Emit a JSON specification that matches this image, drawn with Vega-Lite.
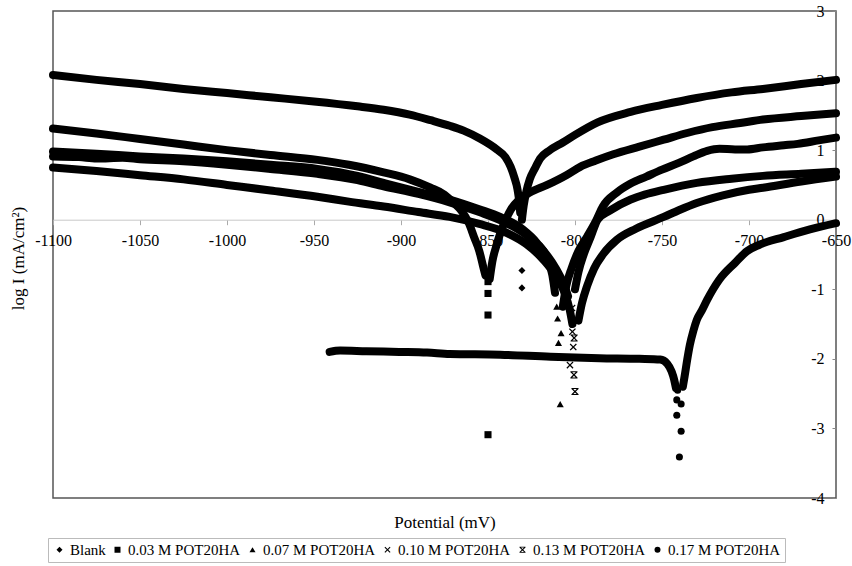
{
  "$schema": "https://vega.github.io/schema/vega-lite/v6.json",
  "width": 783,
  "height": 487,
  "autosize": {"type": "none"},
  "padding": {"left": 53, "top": 11, "right": 16, "bottom": 68},
  "background": "white",
  "config": {
    "view": {"stroke": "#555", "strokeWidth": 1.5},
    "font": "Liberation Serif, Times New Roman, serif"
  },
  "data": {"values": [
    {"s":"Blank","b":"c","E":-1100,"I":2.08},{"s":"Blank","b":"c","E":-1075,"I":2.01},{"s":"Blank","b":"c","E":-1050,"I":1.95},{"s":"Blank","b":"c","E":-1025,"I":1.88},{"s":"Blank","b":"c","E":-1000,"I":1.82},{"s":"Blank","b":"c","E":-975,"I":1.76},{"s":"Blank","b":"c","E":-950,"I":1.70},{"s":"Blank","b":"c","E":-925,"I":1.63},{"s":"Blank","b":"c","E":-910,"I":1.58},{"s":"Blank","b":"c","E":-895,"I":1.51},{"s":"Blank","b":"c","E":-883,"I":1.43},{"s":"Blank","b":"c","E":-872,"I":1.35},{"s":"Blank","b":"c","E":-864,"I":1.28},{"s":"Blank","b":"c","E":-855,"I":1.17},{"s":"Blank","b":"c","E":-845,"I":1.01},{"s":"Blank","b":"c","E":-840,"I":0.90},{"s":"Blank","b":"c","E":-837,"I":0.76},{"s":"Blank","b":"c","E":-835,"I":0.62},{"s":"Blank","b":"c","E":-833,"I":0.43},{"s":"Blank","b":"c","E":-832,"I":0.25},{"s":"Blank","b":"c","E":-831.5,"I":0.10},
    {"s":"Blank","b":"p","E":-830.5,"I":-0.73},{"s":"Blank","b":"p","E":-830.5,"I":-0.98},
    {"s":"Blank","b":"a","E":-830.5,"I":0.0},{"s":"Blank","b":"a","E":-829.5,"I":0.2},{"s":"Blank","b":"a","E":-828,"I":0.4},{"s":"Blank","b":"a","E":-826,"I":0.58},{"s":"Blank","b":"a","E":-823,"I":0.74},{"s":"Blank","b":"a","E":-820,"I":0.88},{"s":"Blank","b":"a","E":-815,"I":0.99},{"s":"Blank","b":"a","E":-807,"I":1.11},{"s":"Blank","b":"a","E":-800,"I":1.22},{"s":"Blank","b":"a","E":-787,"I":1.40},{"s":"Blank","b":"a","E":-768,"I":1.55},{"s":"Blank","b":"a","E":-750,"I":1.65},{"s":"Blank","b":"a","E":-730,"I":1.75},{"s":"Blank","b":"a","E":-710,"I":1.83},{"s":"Blank","b":"a","E":-692,"I":1.88},{"s":"Blank","b":"a","E":-670,"I":1.95},{"s":"Blank","b":"a","E":-650,"I":2.01},

    {"s":"0.03 M POT20HA","b":"c","E":-1100,"I":1.31},{"s":"0.03 M POT20HA","b":"c","E":-1075,"I":1.24},{"s":"0.03 M POT20HA","b":"c","E":-1050,"I":1.16},{"s":"0.03 M POT20HA","b":"c","E":-1025,"I":1.08},{"s":"0.03 M POT20HA","b":"c","E":-1000,"I":1.00},{"s":"0.03 M POT20HA","b":"c","E":-975,"I":0.93},{"s":"0.03 M POT20HA","b":"c","E":-948,"I":0.86},{"s":"0.03 M POT20HA","b":"c","E":-930,"I":0.79},{"s":"0.03 M POT20HA","b":"c","E":-910,"I":0.68},{"s":"0.03 M POT20HA","b":"c","E":-895,"I":0.58},{"s":"0.03 M POT20HA","b":"c","E":-883,"I":0.46},{"s":"0.03 M POT20HA","b":"c","E":-875,"I":0.36},{"s":"0.03 M POT20HA","b":"c","E":-870,"I":0.25},{"s":"0.03 M POT20HA","b":"c","E":-865,"I":0.12},{"s":"0.03 M POT20HA","b":"c","E":-861,"I":-0.05},{"s":"0.03 M POT20HA","b":"c","E":-858,"I":-0.25},{"s":"0.03 M POT20HA","b":"c","E":-855,"I":-0.45},{"s":"0.03 M POT20HA","b":"c","E":-853,"I":-0.65},{"s":"0.03 M POT20HA","b":"c","E":-851.5,"I":-0.80},
    {"s":"0.03 M POT20HA","b":"p","E":-850,"I":-0.89},{"s":"0.03 M POT20HA","b":"p","E":-850,"I":-1.06},{"s":"0.03 M POT20HA","b":"p","E":-850,"I":-1.37},{"s":"0.03 M POT20HA","b":"p","E":-850,"I":-3.09},
    {"s":"0.03 M POT20HA","b":"a","E":-849,"I":-0.85},{"s":"0.03 M POT20HA","b":"a","E":-847.5,"I":-0.60},{"s":"0.03 M POT20HA","b":"a","E":-845,"I":-0.36},{"s":"0.03 M POT20HA","b":"a","E":-843,"I":-0.20},{"s":"0.03 M POT20HA","b":"a","E":-841,"I":-0.07},{"s":"0.03 M POT20HA","b":"a","E":-837,"I":0.14},{"s":"0.03 M POT20HA","b":"a","E":-832,"I":0.29},{"s":"0.03 M POT20HA","b":"a","E":-826,"I":0.39},{"s":"0.03 M POT20HA","b":"a","E":-816,"I":0.50},{"s":"0.03 M POT20HA","b":"a","E":-805,"I":0.64},{"s":"0.03 M POT20HA","b":"a","E":-797,"I":0.76},{"s":"0.03 M POT20HA","b":"a","E":-788,"I":0.85},{"s":"0.03 M POT20HA","b":"a","E":-778,"I":0.94},{"s":"0.03 M POT20HA","b":"a","E":-763,"I":1.05},{"s":"0.03 M POT20HA","b":"a","E":-749,"I":1.15},{"s":"0.03 M POT20HA","b":"a","E":-735,"I":1.25},{"s":"0.03 M POT20HA","b":"a","E":-721,"I":1.33},{"s":"0.03 M POT20HA","b":"a","E":-705,"I":1.39},{"s":"0.03 M POT20HA","b":"a","E":-692,"I":1.44},{"s":"0.03 M POT20HA","b":"a","E":-670,"I":1.49},{"s":"0.03 M POT20HA","b":"a","E":-650,"I":1.53},

    {"s":"0.07 M POT20HA","b":"c","E":-1100,"I":0.98},{"s":"0.07 M POT20HA","b":"c","E":-1075,"I":0.95},{"s":"0.07 M POT20HA","b":"c","E":-1050,"I":0.91},{"s":"0.07 M POT20HA","b":"c","E":-1025,"I":0.88},{"s":"0.07 M POT20HA","b":"c","E":-1000,"I":0.84},{"s":"0.07 M POT20HA","b":"c","E":-975,"I":0.79},{"s":"0.07 M POT20HA","b":"c","E":-948,"I":0.73},{"s":"0.07 M POT20HA","b":"c","E":-925,"I":0.63},{"s":"0.07 M POT20HA","b":"c","E":-910,"I":0.53},{"s":"0.07 M POT20HA","b":"c","E":-890,"I":0.40},{"s":"0.07 M POT20HA","b":"c","E":-872,"I":0.29},{"s":"0.07 M POT20HA","b":"c","E":-855,"I":0.15},{"s":"0.07 M POT20HA","b":"c","E":-843,"I":0.04},{"s":"0.07 M POT20HA","b":"c","E":-830,"I":-0.14},{"s":"0.07 M POT20HA","b":"c","E":-822,"I":-0.33},{"s":"0.07 M POT20HA","b":"c","E":-816,"I":-0.55},{"s":"0.07 M POT20HA","b":"c","E":-813,"I":-0.80},{"s":"0.07 M POT20HA","b":"c","E":-811.5,"I":-1.05},
    {"s":"0.07 M POT20HA","b":"p","E":-810.5,"I":-1.25},{"s":"0.07 M POT20HA","b":"p","E":-810,"I":-1.42},{"s":"0.07 M POT20HA","b":"p","E":-808,"I":-1.63},{"s":"0.07 M POT20HA","b":"p","E":-809.5,"I":-1.77},{"s":"0.07 M POT20HA","b":"p","E":-808.5,"I":-2.65},
    {"s":"0.07 M POT20HA","b":"a","E":-807,"I":-1.25},{"s":"0.07 M POT20HA","b":"a","E":-805,"I":-0.95},{"s":"0.07 M POT20HA","b":"a","E":-802,"I":-0.70},{"s":"0.07 M POT20HA","b":"a","E":-798,"I":-0.45},{"s":"0.07 M POT20HA","b":"a","E":-793,"I":-0.24},{"s":"0.07 M POT20HA","b":"a","E":-788,"I":-0.02},{"s":"0.07 M POT20HA","b":"a","E":-784,"I":0.19},{"s":"0.07 M POT20HA","b":"a","E":-776,"I":0.39},{"s":"0.07 M POT20HA","b":"a","E":-768,"I":0.52},{"s":"0.07 M POT20HA","b":"a","E":-759,"I":0.62},{"s":"0.07 M POT20HA","b":"a","E":-750,"I":0.72},{"s":"0.07 M POT20HA","b":"a","E":-740,"I":0.82},{"s":"0.07 M POT20HA","b":"a","E":-732,"I":0.91},{"s":"0.07 M POT20HA","b":"a","E":-724,"I":0.99},{"s":"0.07 M POT20HA","b":"a","E":-717,"I":1.02},{"s":"0.07 M POT20HA","b":"a","E":-708,"I":1.01},{"s":"0.07 M POT20HA","b":"a","E":-701,"I":1.01},{"s":"0.07 M POT20HA","b":"a","E":-692,"I":1.04},{"s":"0.07 M POT20HA","b":"a","E":-680,"I":1.07},{"s":"0.07 M POT20HA","b":"a","E":-672,"I":1.09},{"s":"0.07 M POT20HA","b":"a","E":-660,"I":1.14},{"s":"0.07 M POT20HA","b":"a","E":-650,"I":1.18},

    {"s":"0.10 M POT20HA","b":"c","E":-1100,"I":0.91},{"s":"0.10 M POT20HA","b":"c","E":-1085,"I":0.90},{"s":"0.10 M POT20HA","b":"c","E":-1075,"I":0.88},{"s":"0.10 M POT20HA","b":"c","E":-1060,"I":0.89},{"s":"0.10 M POT20HA","b":"c","E":-1050,"I":0.87},{"s":"0.10 M POT20HA","b":"c","E":-1025,"I":0.84},{"s":"0.10 M POT20HA","b":"c","E":-1000,"I":0.79},{"s":"0.10 M POT20HA","b":"c","E":-975,"I":0.73},{"s":"0.10 M POT20HA","b":"c","E":-948,"I":0.66},{"s":"0.10 M POT20HA","b":"c","E":-925,"I":0.57},{"s":"0.10 M POT20HA","b":"c","E":-910,"I":0.48},{"s":"0.10 M POT20HA","b":"c","E":-890,"I":0.37},{"s":"0.10 M POT20HA","b":"c","E":-872,"I":0.25},{"s":"0.10 M POT20HA","b":"c","E":-855,"I":0.11},{"s":"0.10 M POT20HA","b":"c","E":-840,"I":-0.04},{"s":"0.10 M POT20HA","b":"c","E":-828,"I":-0.22},{"s":"0.10 M POT20HA","b":"c","E":-818,"I":-0.45},{"s":"0.10 M POT20HA","b":"c","E":-811,"I":-0.70},{"s":"0.10 M POT20HA","b":"c","E":-806,"I":-0.95},{"s":"0.10 M POT20HA","b":"c","E":-804,"I":-1.10},
    {"s":"0.10 M POT20HA","b":"p","E":-801.7,"I":-1.27},{"s":"0.10 M POT20HA","b":"p","E":-801.5,"I":-1.61},{"s":"0.10 M POT20HA","b":"p","E":-801,"I":-1.83},{"s":"0.10 M POT20HA","b":"p","E":-802.9,"I":-2.09},
    {"s":"0.10 M POT20HA","b":"a","E":-800,"I":-1.00},{"s":"0.10 M POT20HA","b":"a","E":-798,"I":-0.75},{"s":"0.10 M POT20HA","b":"a","E":-795,"I":-0.50},{"s":"0.10 M POT20HA","b":"a","E":-791,"I":-0.25},{"s":"0.10 M POT20HA","b":"a","E":-787,"I":0.0},{"s":"0.10 M POT20HA","b":"a","E":-780,"I":0.13},{"s":"0.10 M POT20HA","b":"a","E":-768,"I":0.29},{"s":"0.10 M POT20HA","b":"a","E":-760,"I":0.36},{"s":"0.10 M POT20HA","b":"a","E":-749,"I":0.43},{"s":"0.10 M POT20HA","b":"a","E":-730,"I":0.53},{"s":"0.10 M POT20HA","b":"a","E":-710,"I":0.59},{"s":"0.10 M POT20HA","b":"a","E":-692,"I":0.63},{"s":"0.10 M POT20HA","b":"a","E":-670,"I":0.66},{"s":"0.10 M POT20HA","b":"a","E":-650,"I":0.69},

    {"s":"0.13 M POT20HA","b":"c","E":-1100,"I":0.75},{"s":"0.13 M POT20HA","b":"c","E":-1075,"I":0.70},{"s":"0.13 M POT20HA","b":"c","E":-1050,"I":0.64},{"s":"0.13 M POT20HA","b":"c","E":-1025,"I":0.58},{"s":"0.13 M POT20HA","b":"c","E":-1000,"I":0.50},{"s":"0.13 M POT20HA","b":"c","E":-975,"I":0.42},{"s":"0.13 M POT20HA","b":"c","E":-948,"I":0.33},{"s":"0.13 M POT20HA","b":"c","E":-930,"I":0.26},{"s":"0.13 M POT20HA","b":"c","E":-910,"I":0.19},{"s":"0.13 M POT20HA","b":"c","E":-890,"I":0.11},{"s":"0.13 M POT20HA","b":"c","E":-872,"I":0.04},{"s":"0.13 M POT20HA","b":"c","E":-855,"I":-0.06},{"s":"0.13 M POT20HA","b":"c","E":-840,"I":-0.18},{"s":"0.13 M POT20HA","b":"c","E":-828,"I":-0.35},{"s":"0.13 M POT20HA","b":"c","E":-818,"I":-0.58},{"s":"0.13 M POT20HA","b":"c","E":-810,"I":-0.85},{"s":"0.13 M POT20HA","b":"c","E":-806,"I":-1.05},{"s":"0.13 M POT20HA","b":"c","E":-803,"I":-1.30},{"s":"0.13 M POT20HA","b":"c","E":-801.5,"I":-1.50},
    {"s":"0.13 M POT20HA","b":"p","E":-800.5,"I":-1.70},{"s":"0.13 M POT20HA","b":"p","E":-800.6,"I":-2.23},{"s":"0.13 M POT20HA","b":"p","E":-800,"I":-2.47},
    {"s":"0.13 M POT20HA","b":"a","E":-798,"I":-1.45},{"s":"0.13 M POT20HA","b":"a","E":-796,"I":-1.20},{"s":"0.13 M POT20HA","b":"a","E":-793,"I":-0.95},{"s":"0.13 M POT20HA","b":"a","E":-789,"I":-0.70},{"s":"0.13 M POT20HA","b":"a","E":-784,"I":-0.50},{"s":"0.13 M POT20HA","b":"a","E":-776,"I":-0.29},{"s":"0.13 M POT20HA","b":"a","E":-765,"I":-0.13},{"s":"0.13 M POT20HA","b":"a","E":-749,"I":0.04},{"s":"0.13 M POT20HA","b":"a","E":-740,"I":0.14},{"s":"0.13 M POT20HA","b":"a","E":-730,"I":0.24},{"s":"0.13 M POT20HA","b":"a","E":-715,"I":0.35},{"s":"0.13 M POT20HA","b":"a","E":-700,"I":0.43},{"s":"0.13 M POT20HA","b":"a","E":-692,"I":0.46},{"s":"0.13 M POT20HA","b":"a","E":-670,"I":0.55},{"s":"0.13 M POT20HA","b":"a","E":-650,"I":0.62},

    {"s":"0.17 M POT20HA","b":"c","E":-941,"I":-1.90},{"s":"0.17 M POT20HA","b":"c","E":-935,"I":-1.88},{"s":"0.17 M POT20HA","b":"c","E":-920,"I":-1.89},{"s":"0.17 M POT20HA","b":"c","E":-901,"I":-1.90},{"s":"0.17 M POT20HA","b":"c","E":-885,"I":-1.91},{"s":"0.17 M POT20HA","b":"c","E":-872,"I":-1.93},{"s":"0.17 M POT20HA","b":"c","E":-843,"I":-1.94},{"s":"0.17 M POT20HA","b":"c","E":-814,"I":-1.97},{"s":"0.17 M POT20HA","b":"c","E":-786,"I":-1.99},{"s":"0.17 M POT20HA","b":"c","E":-763,"I":-2.00},{"s":"0.17 M POT20HA","b":"c","E":-751,"I":-2.01},{"s":"0.17 M POT20HA","b":"c","E":-747,"I":-2.07},{"s":"0.17 M POT20HA","b":"c","E":-744.5,"I":-2.18},{"s":"0.17 M POT20HA","b":"c","E":-743,"I":-2.30},{"s":"0.17 M POT20HA","b":"c","E":-742,"I":-2.42},
    {"s":"0.17 M POT20HA","b":"p","E":-741,"I":-2.45},{"s":"0.17 M POT20HA","b":"p","E":-741.5,"I":-2.59},{"s":"0.17 M POT20HA","b":"p","E":-739,"I":-2.65},{"s":"0.17 M POT20HA","b":"p","E":-741.5,"I":-2.81},{"s":"0.17 M POT20HA","b":"p","E":-739,"I":-3.04},{"s":"0.17 M POT20HA","b":"p","E":-740,"I":-3.41},
    {"s":"0.17 M POT20HA","b":"a","E":-738,"I":-2.40},{"s":"0.17 M POT20HA","b":"a","E":-737,"I":-2.25},{"s":"0.17 M POT20HA","b":"a","E":-735.5,"I":-2.01},{"s":"0.17 M POT20HA","b":"a","E":-734,"I":-1.80},{"s":"0.17 M POT20HA","b":"a","E":-732,"I":-1.60},{"s":"0.17 M POT20HA","b":"a","E":-730,"I":-1.44},{"s":"0.17 M POT20HA","b":"a","E":-727,"I":-1.30},{"s":"0.17 M POT20HA","b":"a","E":-724,"I":-1.15},{"s":"0.17 M POT20HA","b":"a","E":-717,"I":-0.86},{"s":"0.17 M POT20HA","b":"a","E":-708,"I":-0.62},{"s":"0.17 M POT20HA","b":"a","E":-701,"I":-0.45},{"s":"0.17 M POT20HA","b":"a","E":-694,"I":-0.36},{"s":"0.17 M POT20HA","b":"a","E":-680,"I":-0.25},{"s":"0.17 M POT20HA","b":"a","E":-665,"I":-0.14},{"s":"0.17 M POT20HA","b":"a","E":-650,"I":-0.05}
  ]},
  "encoding": {
    "x": {
      "field": "E", "type": "quantitative",
      "scale": {"domain": [-1100, -650], "nice": false, "zero": false},
      "axis": {
        "values": [-1100, -1050, -1000, -950, -900, -850, -800, -750, -700, -650],
        "labelExpr": "'' + datum.value",
        "title": "Potential (mV)",
        "offset": -278.3,
        "grid": false,
        "domainColor": "#c8c8c8",
        "tickColor": "#aaa",
        "tickSize": 5,
        "labelFont": "Liberation Serif, Times New Roman, serif",
        "labelFontSize": 16,
        "labelColor": "#000",
        "labelPadding": 8,
        "labelFlush": false,
        "labelOverlap": false,
        "titleFont": "Liberation Serif, Times New Roman, serif",
        "titleFontSize": 17,
        "titleFontWeight": "normal",
        "titleColor": "#000",
        "titleY": 303,
        "titleBaseline": "middle"
      }
    },
    "y": {
      "field": "I", "type": "quantitative",
      "scale": {"domain": [-4, 3], "nice": false, "zero": false},
      "axis": {
        "orient": "left",
        "offset": -783,
        "values": [-4, -3, -2, -1, 0, 1, 2, 3],
        "labelExpr": "'' + datum.value",
        "title": "log I (mA/cm²)",
        "grid": false,
        "domain": false,
        "tickColor": "#888",
        "tickSize": 4,
        "labelFont": "Liberation Serif, Times New Roman, serif",
        "labelFontSize": 16,
        "labelColor": "#000",
        "labelPadding": 8,
        "labelFlush": false,
        "labelOverlap": false,
        "titleFont": "Liberation Serif, Times New Roman, serif",
        "titleFontSize": 17,
        "titleFontWeight": "normal",
        "titleColor": "#000",
        "titleAngle": -90,
        "titleX": -818,
        "titleY": 247,
        "titleAlign": "center",
        "titleBaseline": "middle"
      }
    }
  },
  "layer": [
    {
      "transform": [{"filter": "datum.b != 'p'"}],
      "mark": {"type": "line", "color": "#000", "strokeWidth": 8, "strokeCap": "round", "strokeJoin": "round", "interpolate": "monotone"},
      "encoding": {"detail": [{"field": "s"}, {"field": "b"}]}
    },
    {
      "transform": [{"filter": "datum.b == 'p'"}],
      "mark": {"type": "point", "filled": true, "color": "#000", "size": 50, "opacity": 1},
      "encoding": {
        "shape": {
          "field": "s", "type": "nominal",
          "scale": {
            "domain": ["Blank", "0.03 M POT20HA", "0.07 M POT20HA", "0.10 M POT20HA", "0.13 M POT20HA", "0.17 M POT20HA"],
            "range": ["diamond", "square", "triangle-up",
              "M-1,-0.75L-0.75,-1L0,-0.25L0.75,-1L1,-0.75L0.25,0L1,0.75L0.75,1L0,0.25L-0.75,1L-1,0.75L-0.25,0Z",
              "M-1,-1H1V-0.72H-1Z M-1,0.72H1V1H-1Z M-1,-0.75L-0.75,-1L0,-0.25L0.75,-1L1,-0.75L0.25,0L1,0.75L0.75,1L0,0.25L-0.75,1L-1,0.75L-0.25,0Z",
              "circle"]
          },
          "legend": {
            "title": null,
            "orient": "none",
            "direction": "horizontal",
            "legendX": -5,
            "legendY": 527,
            "strokeColor": "#bbb",
            "padding": 4,
            "symbolSize": 36,
            "symbolFillColor": "#000",
            "symbolStrokeColor": "#000",
            "symbolStrokeWidth": 0,
            "labelFont": "Liberation Serif, Times New Roman, serif",
            "labelFontSize": 15,
            "labelColor": "#000",
            "labelOffset": 3,
            "columnPadding": 4
          }
        }
      }
    }
  ]
}
